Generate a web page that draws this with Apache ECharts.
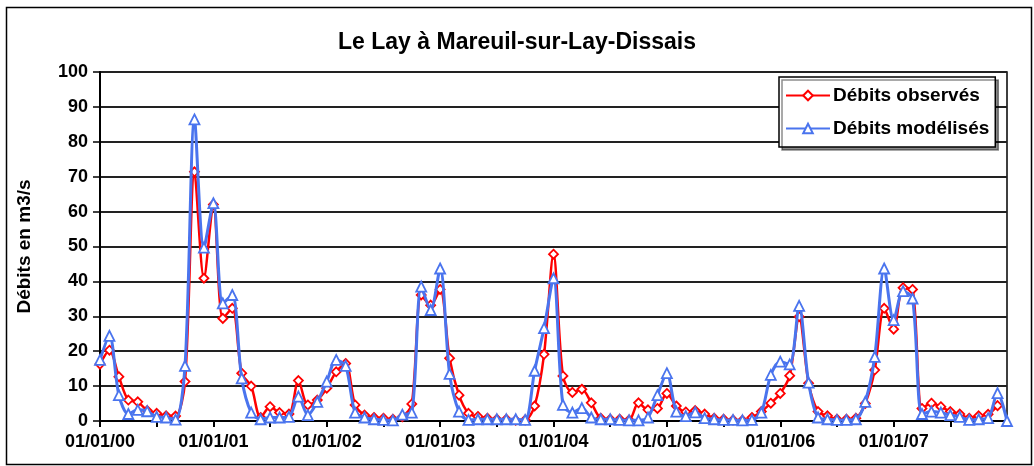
<!DOCTYPE html>
<html>
<head>
<meta charset="utf-8">
<script src="https://cdn.jsdelivr.net/npm/echarts@6/dist/echarts.min.js"></script>
<style>
  html, body { margin: 0; padding: 0; background: #fff; }
  #chart { width: 1034px; height: 466px; }
</style>
</head>
<body>
<div id="chart"></div>
<script>
// Monthly flows of Le Lay at Mareuil-sur-Lay-Dissais, Jan 2000 – Jan 2008
const years = ['00', '01', '02', '03', '04', '05', '06', '07', '08'];
const monthCodes = ['01', '02', '03', '04', '05', '06', '07', '08', '09', '10', '11', '12'];

// observed monthly flows (m3/s), Jan 2000 – Dec 2007
const observed = [
  16.3, 20.3, 12.7, 6.0, 5.5, 3.0, 2.2, 1.5, 1.4, 11.3, 71.4, 40.9,
  62.0, 29.4, 32.3, 13.7, 10.0, 1.0, 4.1, 2.4, 2.0, 11.6, 4.6, 6.0,
  9.4, 14.1, 16.5, 4.6, 1.7, 1.0, 0.8, 0.5, 1.2, 4.9, 36.1, 33.2,
  37.7, 18.0, 7.4, 2.2, 1.3, 0.8, 0.5, 0.5, 0.2, 0.3, 4.3, 19.1,
  47.8, 12.9, 8.2, 9.1, 5.2, 0.8, 0.5, 0.5, 0.3, 5.2, 3.2, 3.6,
  7.9, 4.3, 2.6, 3.0, 2.0, 0.8, 0.5, 0.3, 0.2, 1.0, 2.7, 5.1,
  7.9, 13.0, 29.9, 10.8, 2.7, 1.5, 0.5, 0.5, 0.8, 5.0, 14.6, 32.3,
  26.3, 38.2, 37.7, 3.6, 5.1, 4.1, 2.7, 2.0, 0.8, 1.5, 1.9, 4.4
];

// modelled monthly flows (m3/s), Jan 2000 – Jan 2008
const modelled = [
  17.5, 24.4, 7.4, 2.0, 3.2, 2.8, 1.2, 1.0, 0.4, 15.8, 86.4, 49.7,
  62.4, 33.7, 36.1, 12.2, 2.4, 0.5, 1.0, 1.0, 1.2, 7.0, 1.7, 5.5,
  11.3, 17.5, 15.8, 2.4, 1.0, 0.5, 0.3, 0.2, 1.8, 2.4, 38.5, 31.8,
  43.7, 13.5, 2.7, 0.3, 0.5, 0.5, 0.5, 0.5, 0.5, 0.3, 14.4, 26.6,
  40.9, 4.6, 2.4, 3.7, 1.0, 0.5, 0.5, 0.3, 0.2, 0.2, 1.0, 7.4,
  13.7, 2.7, 1.4, 2.5, 0.8, 0.5, 0.3, 0.3, 0.2, 0.3, 2.4, 13.2,
  17.0, 16.2, 33.0, 11.0, 1.0, 0.5, 0.3, 0.3, 0.5, 5.5, 18.4, 43.7,
  28.9, 37.2, 35.1, 2.0, 2.7, 2.4, 1.7, 1.2, 0.3, 0.5, 0.8, 8.0,
  0
];

// first-of-month dates, dd/mm/yy
const dates = [];
years.forEach(function (y, yi) {
  monthCodes.forEach(function (m, mi) {
    if (yi < years.length - 1 || mi === 0) dates.push('01/' + m + '/' + y);
  });
});

const FONT = '"Liberation Sans", Arial, sans-serif';
const chart = echarts.init(document.getElementById('chart'));

chart.setOption({
  backgroundColor: '#fff',
  animation: false,
  title: {
    text: 'Le Lay à Mareuil-sur-Lay-Dissais',
    left: 'center',
    top: 26,
    textStyle: { fontFamily: FONT, fontSize: 23, fontWeight: 'bold', color: '#000' }
  },
  legend: {
    orient: 'vertical',
    left: 779,
    top: 77,
    width: 220,
    itemWidth: 44,
    itemHeight: 12,
    itemGap: 14,
    padding: [9, 6, 9, 6],
    backgroundColor: '#fff',
    borderColor: '#000',
    borderWidth: 1.5,
    shadowColor: 'rgba(0,0,0,0.45)',
    shadowOffsetX: 3,
    shadowOffsetY: 3,
    shadowBlur: 0,
    textStyle: { fontFamily: FONT, fontSize: 19, fontWeight: 'bold', color: '#000', padding: [0, 0, 0, -2] },
    data: ['Débits observés', 'Débits modélisés']
  },
  grid: {
    left: 100,
    right: 27,
    top: 72,
    bottom: 45,
    show: true,
    borderColor: '#000',
    borderWidth: 1.5,
    backgroundColor: '#fff'
  },
  xAxis: {
    type: 'category',
    data: dates,
    boundaryGap: false,
    axisLine: { lineStyle: { color: '#000', width: 2 } },
    axisTick: {
      show: true,
      length: 6,
      interval: function (i) { return i % 6 === 0; },
      lineStyle: { color: '#000', width: 2 }
    },
    axisLabel: {
      interval: function (i) { return i % 12 === 0 && i < dates.length - 1; },
      margin: 12,
      fontFamily: FONT,
      fontSize: 18,
      fontWeight: 'bold',
      color: '#000'
    },
    splitLine: { show: false }
  },
  yAxis: {
    type: 'value',
    min: 0,
    max: 100,
    interval: 10,
    name: 'Débits en m3/s',
    nameLocation: 'middle',
    nameGap: 66,
    nameTextStyle: { fontFamily: FONT, fontSize: 19, fontWeight: 'bold', color: '#000' },
    axisLine: { show: true, lineStyle: { color: '#000', width: 2 } },
    axisTick: { show: true, length: 7, lineStyle: { color: '#000', width: 1.5 } },
    axisLabel: { margin: 12, fontFamily: FONT, fontSize: 18, fontWeight: 'bold', color: '#000' },
    splitLine: { show: true, lineStyle: { color: '#222', width: 1.8 } }
  },
  series: [
    {
      name: 'Débits observés',
      type: 'line',
      data: observed,
      smooth: 0.3,
      symbol: 'diamond',
      symbolSize: 9,
      showAllSymbol: true,
      itemStyle: { color: '#fff', borderColor: '#ff0000', borderWidth: 1.8 },
      lineStyle: { color: '#ff0000', width: 2.5 },
      z: 2
    },
    {
      name: 'Débits modélisés',
      type: 'line',
      data: modelled,
      smooth: 0.3,
      symbol: 'triangle',
      symbolSize: 10,
      showAllSymbol: true,
      itemStyle: { color: '#fff', borderColor: '#4a74ee', borderWidth: 1.8 },
      lineStyle: { color: '#4a74ee', width: 3 },
      z: 3
    }
  ],
  graphic: [
    {
      type: 'rect',
      left: 4,
      top: 5,
      shape: { x: 0, y: 0, width: 1025, height: 457 },
      style: { fill: null, stroke: '#000', lineWidth: 1.5 },
      z: 100,
      silent: true
    }
  ]
});
</script>
</body>
</html>
